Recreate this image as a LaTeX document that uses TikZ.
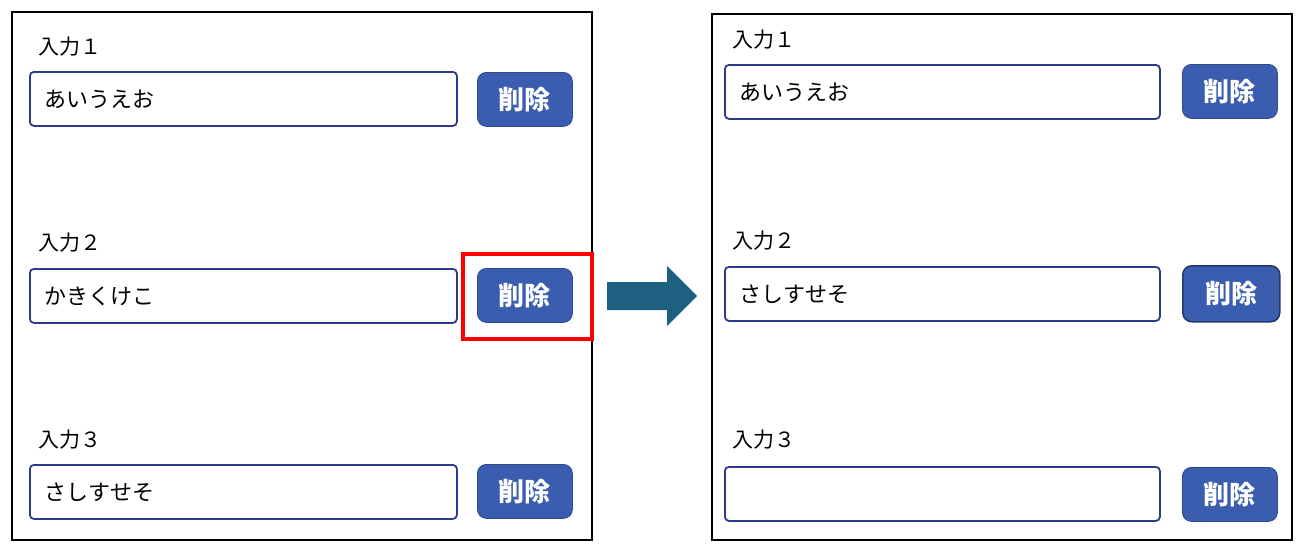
\documentclass[tikz,border=0pt]{standalone}
\usepackage{fontspec}
\setmainfont{Noto Sans CJK JP}
\usetikzlibrary{positioning}
\definecolor{fieldline}{HTML}{2E3A8C}
\definecolor{btnfill}{HTML}{3A5DB0}
\definecolor{arrowcol}{HTML}{1F5F7F}
\tikzset{
  panel/.style={draw=black, line width=1.2pt},
  field/.style={draw=fieldline, line width=1.8pt, rounded corners=4pt, anchor=north west, minimum height=54pt, text width=400pt, inner xsep=15pt, align=left, font=\fontsize{22}{26}\selectfont},
  btn/.style={fill=btnfill, draw=btnfill!80!black, line width=0.8pt, rounded corners=9pt, anchor=north west, minimum width=95pt, minimum height=54pt, text=white, font=\fontsize{26}{30}\selectfont\bfseries},
  lbl/.style={anchor=west, inner sep=0pt, font=\fontsize{21}{25}\selectfont},
}
\begin{document}
\begin{tikzpicture}[x=1pt, y=-1pt]
\useasboundingbox (0,0) rectangle (1300,552);

% left panel
\draw[panel] (12,12) rectangle (592,540);
\node[lbl] (lone) at (38,47) {入力１};
\node[field, minimum width=427pt, text width=397pt] (fone) at (29,71) {あいうえお};
\node[btn] (bone) at (477,72) {削除};
\node[lbl] (ltwo) at (38,243) {入力２};
\node[field, minimum width=427pt, text width=397pt] (ftwo) at (29,268) {かきくけこ};
\node[btn] (btwo) at (477,268) {削除};
\node[lbl] (lthree) at (38,440) {入力３};
\node[field, minimum width=427pt, text width=397pt] (fthree) at (29,464) {さしすせそ};
\node[btn] (bthree) at (477,464) {削除};
\node[draw=red, line width=4pt, minimum width=129pt, minimum height=85pt, anchor=north west] (mark) at (461,252) {};

% arrow
\fill[arrowcol] (607,282) -- (667,282) -- (667,266) -- (697,296) -- (667,326) -- (667,310) -- (607,310) -- cycle;

% right panel
\draw[panel] (712,14) rectangle (1292,540);
\node[lbl] (rlone) at (732,40) {入力１};
\node[field, minimum width=435pt, text width=405pt] (rfone) at (724,64) {あいうえお};
\node[btn] (rbone) at (1182,64) {削除};
\node[lbl] (rltwo) at (732,241) {入力２};
\node[field, minimum width=435pt, text width=405pt] (rftwo) at (724,266) {さしすせそ};
\node[btn, minimum width=97pt, minimum height=56pt, draw=btnfill!60!black, line width=1.5pt] (rbtwo) at (1182,265) {削除};
\node[lbl] (rlthree) at (732,440) {入力３};
\node[field, minimum width=435pt, text width=405pt] (rfthree) at (724,466) {};
\node[btn] (rbthree) at (1182,467) {削除};
\end{tikzpicture}
\end{document}
